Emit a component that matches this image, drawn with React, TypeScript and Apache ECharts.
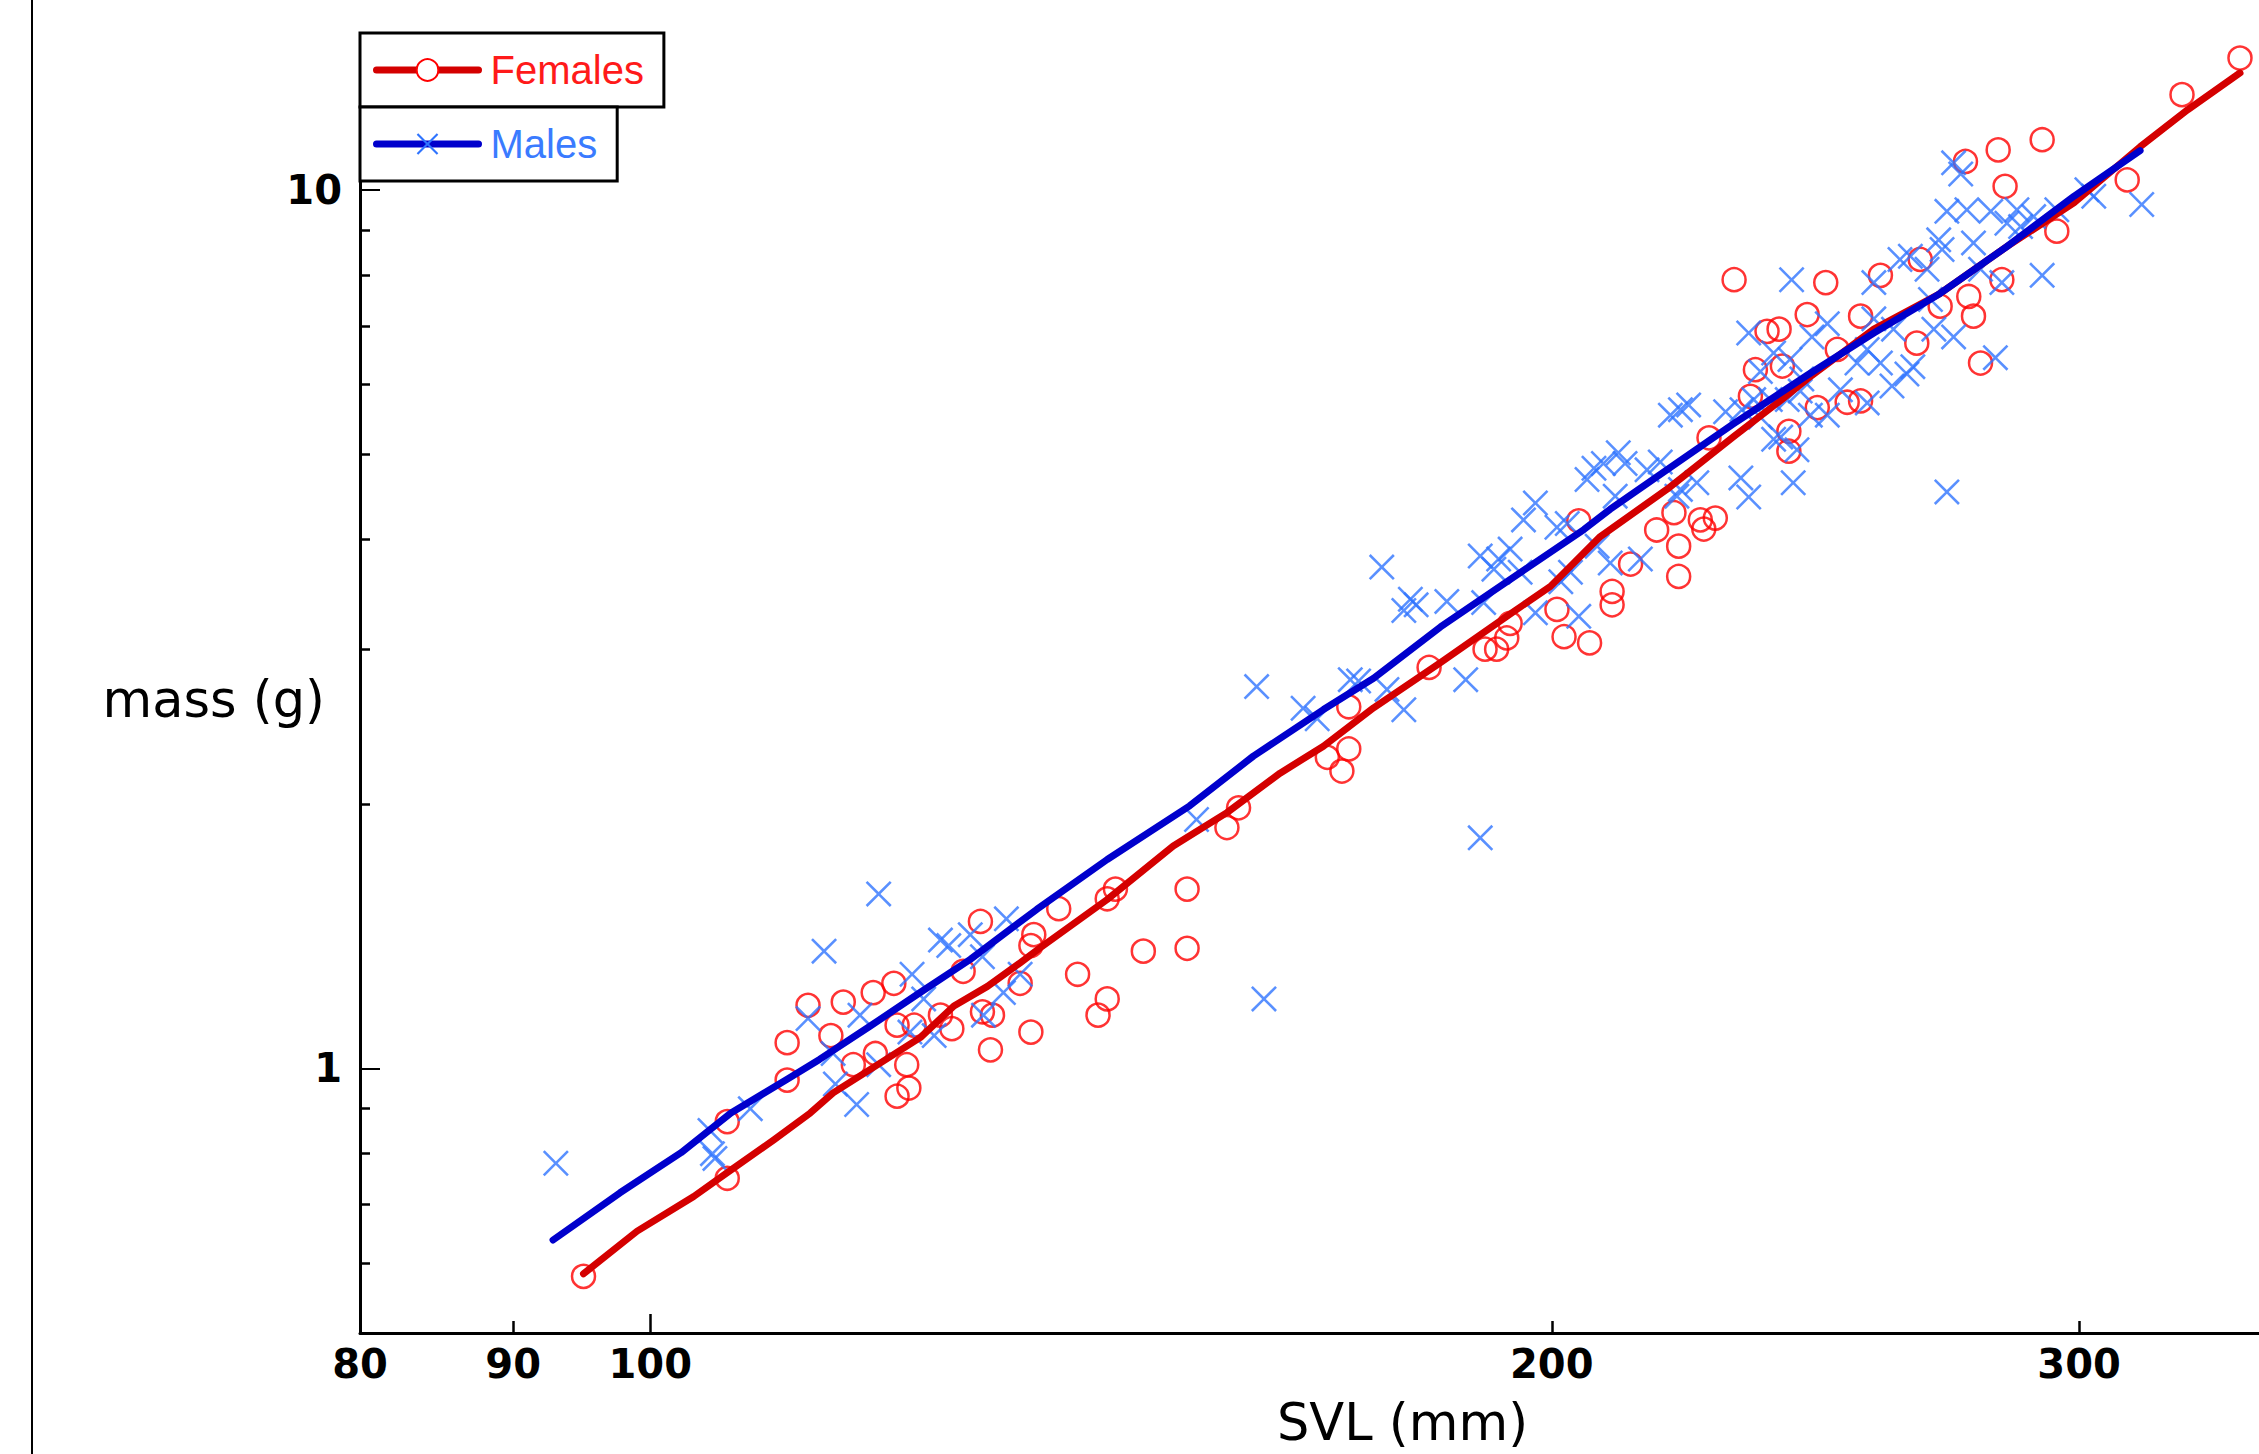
import { useEffect, useRef } from 'react';
import * as echarts from 'echarts';

// ---- axis ranges and ticks (data units) ----
const xMin = 80;
const xMax = 344.5;
const yMin = 0.5;
const yMax = 15;
const xTickLabels = [80, 90, 100, 200, 300];
const xMinorTicks = [90, 200, 300];
const xMajorTicks = [100];
const yTickLabels = [1, 10];
const yMinorTicks = [0.6, 0.7, 0.8, 0.9, 2, 3, 4, 5, 6, 7, 8, 9];
const yMajorTicks = [1, 10];

// ---- Females: [SVL (mm), mass (g)] ----
const females: [number, number][] = [
  [95.0, 0.58], [106.1, 0.75], [106.1, 0.87], [111.1, 1.07], [111.1, 0.97], [112.9, 1.18], [114.9, 1.09],
  [116.0, 1.19], [116.9, 1.01], [118.7, 1.22], [118.9, 1.04], [120.6, 1.25], [120.9, 1.12], [121.8, 1.01],
  [120.9, 0.93], [122.0, 0.95], [122.5, 1.12], [125.0, 1.15], [126.1, 1.11], [127.2, 1.29], [128.9, 1.47],
  [129.1, 1.16], [130.1, 1.15], [129.9, 1.05], [134.0, 1.10], [132.9, 1.25], [134.0, 1.38], [134.3, 1.42],
  [136.9, 1.52], [142.1, 1.56], [143.0, 1.60], [138.9, 1.28], [146.1, 1.36], [151.1, 1.37], [151.1, 1.60],
  [142.1, 1.20], [141.1, 1.15], [155.8, 1.88], [157.2, 1.98], [168.3, 2.26], [171.1, 2.31], [170.2, 2.18],
  [171.1, 2.58], [182.0, 2.86], [190.0, 3.00], [191.7, 3.00], [193.2, 3.09], [193.7, 3.21],
  [230.1, 7.90], [243.4, 7.21], [236.0, 6.90], [238.2, 6.94], [233.9, 6.24], [238.8, 6.30], [233.0, 5.82],
  [240.0, 5.31], [240.0, 5.04], [225.7, 5.22], [219.7, 4.29], [216.8, 4.10], [220.5, 3.93], [220.5, 3.63],
  [224.2, 4.21], [226.8, 4.23], [224.8, 4.11], [212.5, 3.75], [209.5, 3.49], [209.5, 3.37], [200.8, 3.33],
  [201.9, 3.10], [205.9, 3.05], [204.2, 4.20],
  [339.5, 14.12], [324.7, 12.83], [291.6, 11.40], [281.9, 11.10], [274.9, 10.77], [283.4, 10.09], [311.3, 10.26],
  [294.9, 8.97], [265.5, 8.33], [257.5, 7.99], [246.9, 7.84], [253.6, 7.18], [269.6, 7.37], [275.6, 7.56],
  [276.6, 7.18], [282.7, 7.90], [278.1, 6.35], [264.8, 6.69], [249.1, 6.58], [245.3, 5.65], [251.0, 5.73],
  [253.6, 5.75],
];

// ---- Males: [SVL (mm), mass (g)] ----
const males: [number, number][] = [
  [93.0, 0.78], [104.7, 0.85], [104.9, 0.80], [105.1, 0.79], [108.0, 0.90], [112.9, 1.14], [114.3, 1.36],
  [119.2, 1.58], [115.3, 0.96], [117.2, 0.91], [115.1, 1.04], [117.5, 1.15], [119.2, 1.01], [122.3, 1.28],
  [123.4, 1.20], [124.4, 1.09], [125.0, 1.40], [125.8, 1.38], [127.9, 1.42], [129.1, 1.34], [129.2, 1.15],
  [131.5, 1.48], [131.2, 1.22], [132.9, 1.28], [122.1, 1.10],
  [159.4, 2.72], [165.2, 2.57], [167.0, 2.50], [172.4, 2.76], [176.2, 2.70], [178.5, 2.56], [187.2, 2.77],
  [152.2, 1.92], [189.3, 1.83], [160.3, 1.20], [179.4, 3.42], [180.2, 3.37], [178.5, 3.32], [184.5, 3.40],
  [189.8, 3.39], [197.5, 3.30], [175.5, 3.72], [171.3, 2.77],
  [189.3, 3.83], [192.0, 3.80], [191.3, 3.70], [193.7, 3.90], [195.2, 3.67], [204.2, 3.27], [195.7, 4.21],
  [197.5, 4.40], [200.8, 4.13], [202.4, 4.17], [205.5, 4.68], [208.1, 4.88], [210.5, 5.02], [211.6, 4.88],
  [215.2, 4.80], [210.0, 4.48], [207.1, 3.93], [209.2, 3.76], [202.9, 3.67], [201.4, 3.58], [214.1, 3.80],
  [220.8, 5.62], [219.1, 5.54], [222.2, 5.69], [220.8, 4.56], [223.6, 4.64], [228.6, 5.59], [231.5, 5.62],
  [231.3, 4.70], [232.7, 4.47], [240.8, 4.64], [232.7, 6.87], [240.5, 7.90], [237.2, 6.52], [240.2, 6.41],
  [242.1, 5.90], [238.5, 5.23], [236.6, 5.77], [244.0, 5.54], [217.4, 4.90], [220.2, 4.48], [206.6, 4.82],
  [272.4, 10.73], [273.9, 10.42], [271.0, 9.45], [275.2, 9.49], [280.3, 9.45], [286.0, 9.49], [283.8, 9.16],
  [301.8, 10.00], [303.4, 9.83], [314.8, 9.62], [291.6, 7.99], [282.7, 7.84], [281.3, 6.44], [271.0, 4.53],
  [269.3, 8.77], [270.0, 8.55], [261.4, 8.33], [266.9, 8.12], [256.2, 7.84], [272.4, 6.80], [268.3, 6.94],
  [262.8, 6.17], [259.8, 5.98], [257.5, 6.35], [254.9, 6.58], [247.2, 7.04], [244.3, 6.80], [247.2, 5.54],
  [234.8, 6.21], [233.6, 5.77], [237.2, 5.20], [239.7, 5.77], [263.5, 8.40], [260.1, 6.94], [276.6, 8.70],
  [278.1, 8.12], [252.9, 6.35], [249.7, 5.92], [242.4, 6.09], [289.7, 9.32], [286.8, 9.08], [294.9, 9.49],
  [256.2, 7.13], [264.0, 6.29], [267.6, 7.50], [254.9, 5.72], [241.5, 5.06], [234.8, 5.51],
];

// ---- fitted curves ----
const femaleFit: [number, number][] = [
  [95.0, 0.584], [99.0, 0.653], [103.4, 0.715], [106.1, 0.761], [110.0, 0.830], [113.1, 0.890], [115.1, 0.938],
  [118.4, 0.997], [123.1, 1.085], [126.3, 1.178], [129.6, 1.240], [132.9, 1.319], [135.0, 1.373], [142.1, 1.557],
  [149.5, 1.791], [155.8, 1.955], [162.3, 2.168], [167.8, 2.327], [174.4, 2.573], [183.6, 2.896], [193.2, 3.27],
  [199.8, 3.537], [207.6, 4.03], [218.5, 4.56], [230.1, 5.24], [239.0, 5.79], [243.4, 6.09], [256.2, 6.94],
  [269.6, 7.62], [283.7, 8.61], [298.8, 9.66], [314.4, 11.19], [326.1, 12.33], [339.5, 13.58],
];
const maleFit: [number, number][] = [
  [92.8, 0.638], [97.7, 0.722], [102.4, 0.802], [106.4, 0.890], [111.1, 0.972], [113.9, 1.024], [118.4, 1.117],
  [123.1, 1.221], [127.9, 1.331], [134.6, 1.517], [142.1, 1.729], [151.4, 1.990], [159.0, 2.267], [167.8, 2.561],
  [174.4, 2.780], [183.6, 3.18], [192.2, 3.537], [205.0, 4.105], [209.2, 4.33], [218.5, 4.80], [230.1, 5.42],
  [243.4, 6.15], [256.2, 6.87], [269.6, 7.62], [283.7, 8.61], [298.8, 9.83], [314.4, 11.08],
];

const lg = (v: number) => Math.log10(v);
const toLog = (pts: [number, number][]) => pts.map(([x, y]) => [lg(x), lg(y)]);
const fmt = (v: number) => String(Math.round(Math.pow(10, v)));

const X_PATH = 'path://M0,7L7,0L50,43L93,0L100,7L57,50L100,93L93,100L50,57L7,100L0,93L43,50Z';

export default function App() {
  const ref = useRef<HTMLDivElement>(null);

  useEffect(() => {
    if (!ref.current) return;
    const chart = echarts.init(ref.current, null, { renderer: 'svg' });

    const xBase = {
      type: 'value',
      min: lg(xMin),
      max: lg(xMax),
      position: 'bottom',
      splitLine: { show: false },
    };
    const yBase = {
      type: 'value',
      min: lg(yMin),
      max: lg(yMax),
      position: 'left',
      splitLine: { show: false },
    };
    const legendCommon = {
      orient: 'horizontal',
      left: 360,
      itemWidth: 102,
      itemHeight: 27,
      padding: [17, 20, 17, 13],
      borderColor: '#000',
      borderWidth: 3,
      borderRadius: 0,
      backgroundColor: '#fff',
      selectedMode: false,
      lineStyle: { width: 7 },
      z: 20,
    };

    const option: any = {
      animation: false,
      backgroundColor: '#fff',
      grid: { left: 360, right: 0, top: 35, bottom: 121, containLabel: false, outerBoundsMode: 'none' },
      legend: [
        {
          ...legendCommon,
          top: 33,
          data: ['Females'],
          textStyle: { color: '#ff1a1a', fontSize: 40, fontFamily: 'Liberation Sans', lineHeight: 40, padding: [0, 0, 0, 7] },
        },
        {
          ...legendCommon,
          top: 107,
          data: ['Males'],
          textStyle: { color: '#3a7bff', fontSize: 40, fontFamily: 'Liberation Sans', lineHeight: 40, padding: [0, 0, 0, 7] },
        },
      ],
      xAxis: [
        {
          ...xBase,
          axisLine: { show: true, onZero: false, lineStyle: { color: '#000', width: 3 } },
          axisTick: { show: true, inside: true, length: 12, customValues: xMinorTicks.map(lg), lineStyle: { color: '#000', width: 2.5 } },
          axisLabel: {
            show: true,
            customValues: xTickLabels.map(lg),
            formatter: fmt,
            margin: 11,
            color: '#000',
            fontFamily: 'DejaVu Sans',
            fontWeight: 'bold',
            fontSize: 40,
          },
          name: 'SVL (mm)',
          nameLocation: 'middle',
          nameGap: 64,
          nameMoveOverlap: false,
          nameTextStyle: { fontFamily: 'DejaVu Sans', fontSize: 51, color: '#000', padding: [0, 0, 0, 186] },
        },
        {
          ...xBase,
          axisLine: { show: false, onZero: false },
          axisTick: { show: true, inside: true, length: 19, customValues: xMajorTicks.map(lg), lineStyle: { color: '#000', width: 2.5 } },
          axisLabel: { show: false },
        },
      ],
      yAxis: [
        {
          ...yBase,
          axisLine: { show: true, onZero: false, lineStyle: { color: '#000', width: 3 } },
          axisTick: { show: true, inside: true, length: 10, customValues: yMinorTicks.map(lg), lineStyle: { color: '#000', width: 2.5 } },
          axisLabel: {
            show: true,
            customValues: yTickLabels.map(lg),
            formatter: fmt,
            margin: 18,
            color: '#000',
            fontFamily: 'DejaVu Sans',
            fontWeight: 'bold',
            fontSize: 40,
          },
          name: 'mass (g)',
          nameLocation: 'middle',
          nameRotate: 0,
          nameGap: 35,
          nameMoveOverlap: false,
          nameTextStyle: { fontFamily: 'DejaVu Sans', fontSize: 51, color: '#000', verticalAlign: 'top', lineHeight: 30 },
        },
        {
          ...yBase,
          axisLine: { show: false, onZero: false },
          axisTick: { show: true, inside: true, length: 20, customValues: yMajorTicks.map(lg), lineStyle: { color: '#000', width: 2 } },
          axisLabel: { show: false },
        },
      ],
      graphic: [
        {
          type: 'line',
          silent: true,
          shape: { x1: 32, y1: 0, x2: 32, y2: 1454 },
          style: { stroke: '#000', lineWidth: 2 },
        },
      ],
      series: [
        {
          type: 'line',
          name: 'Females',
          xAxisIndex: 0,
          yAxisIndex: 0,
          data: toLog(femaleFit),
          showSymbol: false,
          symbol: 'emptyCircle',
          symbolSize: 22,
          lineStyle: { color: '#d40000', width: 7, cap: 'round', join: 'round' },
          itemStyle: { color: '#ff0000' },
          emphasis: { disabled: true },
          silent: true,
          z: 4,
        },
        {
          type: 'line',
          name: 'Males',
          xAxisIndex: 0,
          yAxisIndex: 0,
          data: toLog(maleFit),
          showSymbol: false,
          symbol: X_PATH,
          symbolSize: 22,
          lineStyle: { color: '#0000cc', width: 7, cap: 'round', join: 'round' },
          itemStyle: { color: '#2f74ff' },
          emphasis: { disabled: true },
          silent: true,
          z: 5,
        },
        {
          type: 'scatter',
          name: 'Females',
          xAxisIndex: 0,
          yAxisIndex: 0,
          data: toLog(females),
          symbol: 'circle',
          symbolSize: 23,
          itemStyle: { color: 'rgba(0,0,0,0)', borderColor: '#ff0000', borderWidth: 2.5 },
          emphasis: { disabled: true },
          silent: true,
          z: 2,
        },
        {
          type: 'scatter',
          name: 'Males',
          xAxisIndex: 0,
          yAxisIndex: 0,
          data: toLog(males),
          symbol: X_PATH,
          symbolSize: 26,
          itemStyle: { color: '#2f74ff' },
          emphasis: { disabled: true },
          silent: true,
          z: 3,
        },
      ],
    };

    chart.setOption(option);
    return () => {
      chart.dispose();
    };
  }, []);

  return (
    <div
      ref={ref}
      style={{ position: 'fixed', left: 0, top: 0, width: 2259, height: 1454, background: '#fff' }}
    />
  );
}
